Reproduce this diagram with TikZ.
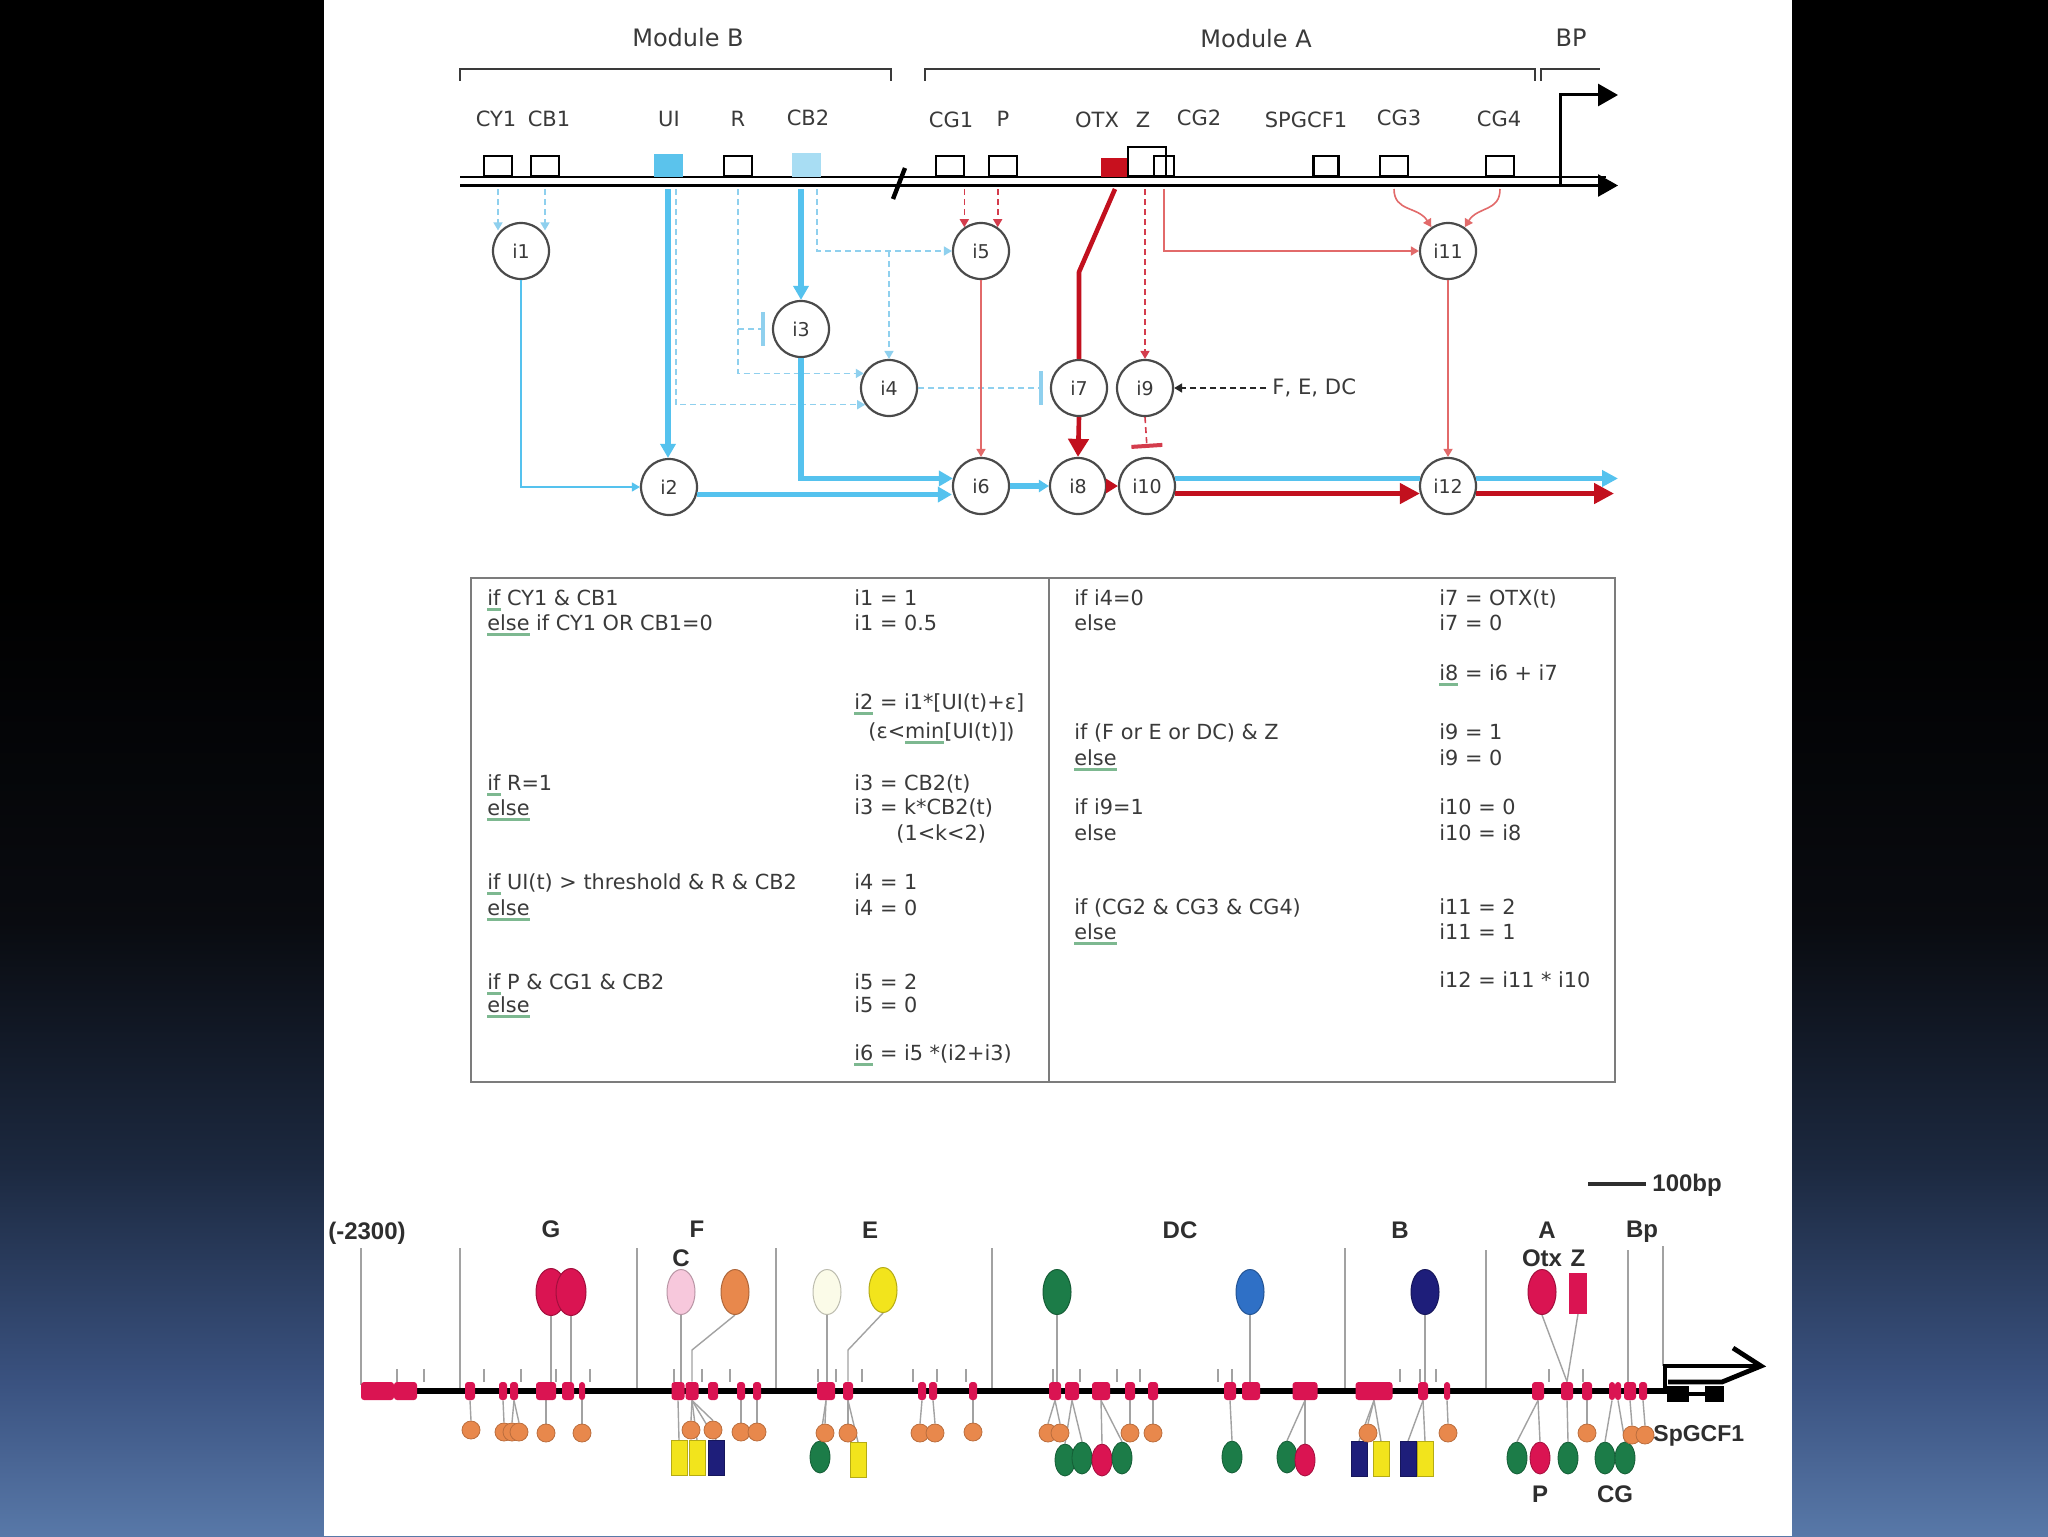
\documentclass[tikz,border=0pt]{standalone}
\usepackage{fontspec}
\usetikzlibrary{arrows.meta,shapes.geometric,calc}
\newfontfamily\dvfont{DejaVu Sans}
\newfontfamily\lsfont{Liberation Sans}
\definecolor{txtc}{HTML}{3A3A3A}
\definecolor{ndc}{HTML}{4A4A4A}
\definecolor{cyanT}{HTML}{55C2EE}
\definecolor{cyanD}{HTML}{8FD0EE}
\definecolor{uiblue}{HTML}{5BC3EC}
\definecolor{cbblue}{HTML}{A8DDF3}
\definecolor{redT}{HTML}{E26A6A}
\definecolor{redD}{HTML}{D43C4C}
\definecolor{redK}{HTML}{C2101E}
\definecolor{otxred}{HTML}{C8101E}
\definecolor{tabc}{HTML}{7C7C7C}
\definecolor{sqg}{HTML}{7DB890}
\definecolor{crim}{HTML}{DA1452}
\definecolor{orng}{HTML}{E8884C}
\definecolor{dgreen}{HTML}{1C7C48}
\definecolor{yel}{HTML}{F2E41C}
\definecolor{navy}{HTML}{1E1E7A}
\definecolor{mblue}{HTML}{2F70C6}
\definecolor{pinkc}{HTML}{F7C8DC}
\definecolor{ivory}{HTML}{FBFBE8}
\definecolor{gline}{HTML}{A2A2A2}
\definecolor{mapt}{HTML}{2E2E2E}
\definecolor{bgA}{HTML}{5878A8}
\definecolor{bgB}{HTML}{3A5280}
\definecolor{bgC}{HTML}{1C2940}
\definecolor{bgD}{HTML}{090B10}
\pgfdeclareverticalshading{slidebg}{100bp}{color(0bp)=(bgA); color(25bp)=(bgA); color(30bp)=(bgB); color(37bp)=(bgC); color(45bp)=(bgD); color(56bp)=(black); color(100bp)=(black)}
\pgfdeclarelayer{back}
\pgfsetlayers{back,main}
\newcommand\sqund[1]{\setbox0=\hbox{#1}\rlap{\textcolor{sqg}{\rule[-2.8pt]{\wd0}{1.2pt}}}#1}
\newcommand\dnasite[3]{\node[dsite, minimum width=#3pt] (#1) at (#2,1391) {};}
\tikzset{
  txt/.style={text=txtc, inner sep=0pt},
  toplab/.style={txt, font=\dvfont\fontsize{10.5}{12}\selectfont},
  modlab/.style={txt, font=\dvfont\fontsize{12}{14}\selectfont},
  obox/.style={draw=black, line width=1.2pt, inner sep=0pt, anchor=south, minimum width=14pt, minimum height=10pt},
  fbox/.style={fill=#1, draw=none, inner sep=0pt, anchor=south, minimum width=14.5pt, minimum height=11.5pt},
  inode/.style={circle, draw=ndc, fill=white, line width=1.1pt, minimum size=28pt, inner sep=0pt, font=\dvfont\fontsize{9.5}{11}\selectfont, text=txtc},
  bthick/.style={draw=cyanT, line width=2.6pt},
  bthin/.style={draw=cyanT, line width=0.7pt},
  bdash/.style={draw=cyanD, line width=0.8pt, dash pattern=on 3pt off 2pt},
  rthin/.style={draw=redT, line width=0.8pt},
  rdash/.style={draw=redD, line width=0.8pt, dash pattern=on 3pt off 2pt},
  rthick/.style={draw=redK, line width=2.3pt},
  atip/.style={-{Triangle[length=4pt,width=4.5pt]}},
  bigtip/.style={-{Triangle[length=7pt,width=7.5pt]}},
  inh/.style={-{Bar[width=17pt,line width=2pt]}},
  tabtxt/.style={txt, anchor=base west, font=\dvfont\fontsize{10.4}{12}\selectfont},
  maplab/.style={text=mapt, inner sep=0pt, font=\lsfont\bfseries\fontsize{12}{14}\selectfont},
  dsite/.style={fill=crim, draw=none, rounded corners=1.5pt, minimum height=9pt, inner sep=0pt},
  bigf/.style={ellipse, fill=#1, draw=#1!75!black, line width=0.5pt, minimum width=14pt, minimum height=22.5pt, inner sep=0pt},
  smf/.style={ellipse, fill=#1, draw=#1!75!black, line width=0.4pt, minimum width=10pt, minimum height=16pt, inner sep=0pt},
  smr/.style={rectangle, fill=#1, draw=#1!75!black, line width=0.4pt, minimum width=8pt, minimum height=17.5pt, inner sep=0pt},
  orc/.style={circle, fill=orng, draw=orng!80!black, line width=0.4pt, minimum size=9pt, inner sep=0pt},
  conn/.style={draw=gline, line width=0.7pt},
  sepl/.style={draw=gline, line width=0.8pt}
}
\begin{document}
\begin{tikzpicture}[x=0.5pt,y=-0.5pt]
\begin{pgfonlayer}{back}
\shade[shading=slidebg] (0,0) rectangle (2048,1536);
\fill[white] (324,0) rectangle (1792,1536);
\end{pgfonlayer}
\useasboundingbox (0,0) rectangle (2048,1536);

% ---------------- top: modules ----------------
\node[modlab] (modB) at (688,38) {Module B};
\node[modlab] (modA) at (1256,39) {Module A};
\node[modlab] (modBP) at (1571,38) {BP};
\draw[txtc, line width=1pt] (460,81) -- (460,69) -- (891,69) -- (891,81);
\draw[txtc, line width=1pt] (925,81) -- (925,69) -- (1535,69) -- (1535,81);
\draw[txtc, line width=1pt] (1541,81) -- (1541,69) -- (1600,69);

% DNA
\draw[line width=1.4pt] (460,177) -- (1606,177);
\draw[line width=1.4pt, -{Triangle[length=10pt,width=11pt]}] (460,185.5) -- (1618,185.5);
\draw[line width=2.2pt] (893,199) -- (905,168);
\draw[line width=1.5pt, -{Triangle[length=10pt,width=11pt]}] (1560,185) -- (1560,95) -- (1618,95);

% binding boxes
\node[obox] (bCY1) at (498,177) {};
\node[obox] (bCB1) at (545,177) {};
\node[fbox=uiblue] (bUI) at (668,177) {};
\node[obox] (bR) at (738,177) {};
\node[fbox=cbblue, minimum height=12pt] (bCB2) at (806,177) {};
\node[obox] (bCG1) at (950,177) {};
\node[obox] (bP) at (1003,177) {};
\node[fbox=otxred, minimum width=14pt, minimum height=9.5pt] (bOTX) at (1115,177) {};
\node[obox, minimum width=19pt, minimum height=14.5pt] (bZ) at (1147,177) {};
\node[obox, minimum width=10pt, minimum height=10pt] (bCG2) at (1164,177) {};
\node[obox, minimum width=12.5pt] (bSP) at (1326,177) {};
\node[obox] (bCG3) at (1394,177) {};
\node[obox] (bCG4) at (1500,177) {};

% labels
\node[toplab] (lCY1) at (496,119) {CY1};
\node[toplab] (lCB1) at (549,119) {CB1};
\node[toplab] (lUI) at (669,119) {UI};
\node[toplab] (lR) at (738,119) {R};
\node[toplab] (lCB2) at (808,118) {CB2};
\node[toplab] (lCG1) at (951,120) {CG1};
\node[toplab] (lP) at (1003,119) {P};
\node[toplab] (lOTX) at (1097,120) {OTX};
\node[toplab] (lZ) at (1143,120) {Z};
\node[toplab] (lCG2) at (1199,118) {CG2};
\node[toplab] (lSP) at (1306,120) {SPGCF1};
\node[toplab] (lCG3) at (1399,118) {CG3};
\node[toplab] (lCG4) at (1499,119) {CG4};

% intermediate nodes
\node[inode] (i1) at (521,251) {i1};
\node[inode] (i2) at (669,487) {i2};
\node[inode] (i3) at (801,329) {i3};
\node[inode] (i4) at (889,388) {i4};
\node[inode] (i5) at (981,251) {i5};
\node[inode] (i6) at (981,486) {i6};
\node[inode] (i7) at (1079,388) {i7};
\node[inode] (i8) at (1078,486) {i8};
\node[inode] (i9) at (1145,388) {i9};
\node[inode] (i10) at (1147,486) {i10};
\node[inode] (i11) at (1448,251) {i11};
\node[inode] (i12) at (1448,486) {i12};

\coordinate (dnaLow) at (0,189);
\coordinate (uiD) at (676,189);
\coordinate (cbD) at (817,189);
\coordinate (otxK) at (1079,272);
\coordinate (outB) at (1618,479);
\coordinate (outR) at (1614,493);

% blue connectors
\draw[bdash, atip] (bCY1 |- dnaLow) -- (bCY1 |- i1.135);
\draw[bdash, atip] (bCB1 |- dnaLow) -- (bCB1 |- i1.45);
\draw[bthin, atip] (i1.south) |- (i2.west);
\draw[bdash, atip] (uiD) |- (i4.215);
\draw[bthick, bigtip] (bUI |- dnaLow) -- (bUI |- i2.north);
\draw[bdash, atip] (bR |- dnaLow) |- (i4.150);
\draw[bdash, inh] (bR |- i3.west) -- ([xshift=-3.5pt]i3.west);
\draw[bdash, atip] (cbD) |- (i5.west);
\draw[bdash, atip] (i4.north |- i5.west) -- (i4.north);
\draw[bthick, bigtip] (i3.north |- dnaLow) -- (i3.north);
\draw[bthick, bigtip] (i3.south) |- (i6.165);
\draw[bthick, bigtip] (i2.-15) -- (i2.-15 -| i6.west);
\draw[bdash, inh] (i4.east) -- ([xshift=-3.5pt]i7.west);
\draw[bthick, -{Triangle[length=5pt,width=6pt]}] (i6.east) -- (i8.west);

% red connectors
\draw[rdash, atip] (i5.125 |- dnaLow) -- (i5.125);
\draw[rdash, atip] (i5.55 |- dnaLow) -- (i5.55);
\draw[rthin, atip] (i5.south) -- (i6.north);
\draw[rthick, line join=round] (bOTX |- dnaLow) -- (otxK) -- (i7.north);
\draw[rthick, -{Triangle[length=9pt,width=10pt]}] (i7.south) -- (i8.north);
\draw[rdash, atip] (i9.north |- dnaLow) -- (i9.north);
\draw[rthin, atip] (bCG2 |- dnaLow) |- (i11.west);
\draw[rthin, atip] (bCG3 |- dnaLow) .. controls (1394,212) and (1418,206) .. (i11.125);
\draw[rthin, atip] (bCG4 |- dnaLow) .. controls (1500,212) and (1478,206) .. (i11.55);
\draw[rthin, atip] (i11.south) -- (i12.north);
\node[txt, anchor=west, font=\dvfont\fontsize{10.6}{12}\selectfont] (fed) at (1272,388) {F, E, DC};
\draw[black!85, line width=0.8pt, dash pattern=on 3pt off 2pt, atip] ([xshift=-3pt]fed.west) -- (i9.east);
\draw[rdash, -{Bar[width=15.5pt,line width=2pt]}] (i9.south) -- ([yshift=4.5pt]i10.north);
\draw[rthick, -{Triangle[length=6pt,width=7pt]}] (i8.east) -- (i10.west);
\draw[bthick] (i10.15) -- (i12.165);
\draw[rthick, -{Triangle[length=10pt,width=10pt]}] (i10.-15) -- (i12.195);
\draw[bthick, -{Triangle[length=8pt,width=8pt]}] (i12.15) -- (i12.15 -| outB);
\draw[rthick, -{Triangle[length=10pt,width=10pt]}] (i12.-15) -- (i12.-15 -| outR);

% ---------------- table ----------------
\draw[tabc, line width=1.4pt] (471,578) rectangle (1615,1082);
\draw[tabc, line width=1.4pt] (1049,578) -- (1049,1082);
\node[tabtxt] (tl1) at (487,605) {\sqund{if} CY1 \& CB1};
\node[tabtxt] (tl2) at (487,630) {\sqund{else} if CY1 OR CB1=0};
\node[tabtxt] (tl3) at (487,790) {\sqund{if} R=1};
\node[tabtxt] (tl4) at (487,815) {\sqund{else}};
\node[tabtxt] (tl5) at (487,889) {\sqund{if} UI(t) > threshold \& R \& CB2};
\node[tabtxt] (tl6) at (487,915) {\sqund{else}};
\node[tabtxt] (tl7) at (487,989) {\sqund{if} P \& CG1 \& CB2};
\node[tabtxt] (tl8) at (487,1012) {\sqund{else}};
\node[tabtxt] (tv1) at (854,605) {i1 = 1};
\node[tabtxt] (tv2) at (854,630) {i1 = 0.5};
\node[tabtxt] (tv3) at (854,709) {\sqund{i2} = i1*[UI(t)+ε]};
\node[tabtxt] (tv4) at (868,738) {(ε<\sqund{min}[UI(t)])};
\node[tabtxt] (tv5) at (854,790) {i3 = CB2(t)};
\node[tabtxt] (tv6) at (854,814) {i3 = k*CB2(t)};
\node[tabtxt] (tv7) at (896,840) {(1<k<2)};
\node[tabtxt] (tv8) at (854,889) {i4 = 1};
\node[tabtxt] (tv9) at (854,915) {i4 = 0};
\node[tabtxt] (tv10) at (854,989) {i5 = 2};
\node[tabtxt] (tv11) at (854,1012) {i5 = 0};
\node[tabtxt] (tv12) at (854,1060) {\sqund{i6} = i5 *(i2+i3)};
\node[tabtxt] (tr1) at (1074,605) {if i4=0};
\node[tabtxt] (tr2) at (1074,630) {else};
\node[tabtxt] (tr3) at (1074,739) {if (F or E or DC) \& Z};
\node[tabtxt] (tr4) at (1074,765) {\sqund{else}};
\node[tabtxt] (tr5) at (1074,814) {if i9=1};
\node[tabtxt] (tr6) at (1074,840) {else};
\node[tabtxt] (tr7) at (1074,914) {if (CG2 \& CG3 \& CG4)};
\node[tabtxt] (tr8) at (1074,939) {\sqund{else}};
\node[tabtxt] (tw1) at (1439,605) {i7 = OTX(t)};
\node[tabtxt] (tw2) at (1439,630) {i7 = 0};
\node[tabtxt] (tw3) at (1439,680) {\sqund{i8} = i6 + i7};
\node[tabtxt] (tw4) at (1439,739) {i9 = 1};
\node[tabtxt] (tw5) at (1439,765) {i9 = 0};
\node[tabtxt] (tw6) at (1439,814) {i10 = 0};
\node[tabtxt] (tw7) at (1439,840) {i10 = i8};
\node[tabtxt] (tw8) at (1439,914) {i11 = 2};
\node[tabtxt] (tw9) at (1439,939) {i11 = 1};
\node[tabtxt] (tw10) at (1439,987) {i12 = i11 * i10};

% ---------------- bottom map ----------------
\draw[line width=2pt, mapt] (1588,1184) -- (1646,1184);
\node[maplab, anchor=west] (sbar) at (1652,1185) {100bp};
\node[maplab] (l2300) at (367,1233) {(-2300)};
\node[maplab] (lG) at (551,1229) {G};
\node[maplab] (lF) at (697,1229) {F};
\node[maplab] (lE) at (870,1230) {E};
\node[maplab] (lDC) at (1180,1230) {DC};
\node[maplab] (lB) at (1400,1230) {B};
\node[maplab] (lA) at (1547,1230) {A};
\node[maplab] (lBp) at (1642,1232) {Bp};
\node[maplab] (lC) at (681,1258) {C};
\node[maplab] (lOtx) at (1542,1258) {Otx};
\node[maplab] (lZm) at (1578,1258) {Z};
\node[maplab] (lPm) at (1540,1494) {P};
\node[maplab] (lCG) at (1615,1494) {CG};
\node[maplab, anchor=west, font=\lsfont\bfseries\fontsize{11.5}{13}\selectfont] (lSp) at (1653,1436) {SpGCF1};

\begin{pgfonlayer}{back}
\foreach \sx/\st/\sb in {361/1248/1385, 460/1248/1391, 637/1248/1391, 776/1248/1391, 992/1248/1391, 1345/1248/1391, 1486/1250/1391, 1628/1250/1391, 1663/1246/1366}
  \draw[sepl] (\sx,\st) -- (\sx,\sb);
\foreach \tx in {397,424,484,521,556,590,674,702,730,818,836,862,913,937,966,1053,1080,1117,1140,1218,1232,1400,1420,1436,1549,1583}
  \draw[draw=gline, line width=0.6pt] (\tx,1369) -- (\tx,1382);
\end{pgfonlayer}

\draw[line width=3.4pt] (361,1391) -- (1665,1391);
% promoter
\draw[line width=2.4pt, line join=miter] (1665,1394) -- (1665,1366) -- (1760,1366);
\draw[line width=2.4pt, line join=miter] (1733,1348) -- (1761,1366) -- (1722,1382) -- (1668,1382);
\fill (1667,1386) rectangle (1689,1402);
\fill (1705,1386) rectangle (1724,1402);
\draw[line width=2pt] (1689,1394) -- (1705,1394);

% sites
\dnasite{sa}{377.5}{16.5}
\dnasite{sb}{405.5}{11.5}
\dnasite{g1}{470}{5}
\dnasite{g2}{503}{4}
\dnasite{g3}{514}{4}
\dnasite{g4}{546}{10}
\dnasite{g5}{568}{6}
\dnasite{g6}{582}{3}
\dnasite{f1}{678}{6.5}
\dnasite{f2}{692}{6.5}
\dnasite{f3}{713}{5}
\dnasite{f4}{741}{4}
\dnasite{f5}{757}{4}
\dnasite{e1}{826}{9}
\dnasite{e2}{848}{5}
\dnasite{e3}{922}{4}
\dnasite{e4}{933}{4}
\dnasite{e5}{973}{4}
\dnasite{d1}{1055}{6}
\dnasite{d2}{1072}{7}
\dnasite{d3}{1101}{9}
\dnasite{d4}{1130}{5}
\dnasite{d5}{1153}{5}
\dnasite{d6}{1230}{6}
\dnasite{d7}{1251}{9}
\dnasite{d8}{1305}{12.5}
\dnasite{b1}{1374}{18.5}
\dnasite{b2}{1423}{5}
\dnasite{b3}{1447}{3}
\dnasite{a1}{1538}{6}
\dnasite{a2}{1567}{6}
\dnasite{a3}{1587}{5}
\dnasite{a4}{1612}{3}
\dnasite{a5}{1618}{3}
\dnasite{a6}{1630}{6}
\dnasite{a7}{1643}{4}

% upper factors
\node[bigf=crim, minimum width=15pt, minimum height=23.5pt] (fG1) at (551,1292) {};
\node[bigf=crim, minimum width=15pt, minimum height=23.5pt] (fG2) at (571,1292) {};
\node[bigf=pinkc] (fC) at (681,1292) {};
\node[bigf=orng] (fF) at (735,1292) {};
\node[bigf=ivory] (fE1) at (827,1292) {};
\node[bigf=yel] (fE2) at (883,1290) {};
\node[bigf=dgreen] (fDC1) at (1057,1292) {};
\node[bigf=mblue] (fDC2) at (1250,1292) {};
\node[bigf=navy] (fB) at (1425,1292) {};
\node[bigf=crim] (fOtx) at (1542,1292) {};
\node[rectangle, fill=crim, minimum width=9pt, minimum height=20.5pt, inner sep=0pt] (fZ) at (1578,1293) {};

% lower factors: rectangles
\node[smr=yel] (yF1) at (679,1458) {};
\node[smr=yel] (yF2) at (697,1458) {};
\node[smr=navy] (nF) at (716,1458) {};
\node[smr=yel] (yE) at (858,1460) {};
\node[smr=navy] (nB1) at (1359,1459) {};
\node[smr=yel] (yB1) at (1381,1459) {};
\node[smr=navy] (nB2) at (1408,1459) {};
\node[smr=yel] (yB2) at (1425,1459) {};
% lower factors: ellipses
\node[smf=dgreen] (gE) at (820,1457) {};
\node[smf=dgreen] (gD1) at (1065,1460) {};
\node[smf=dgreen] (gD2) at (1082,1458) {};
\node[smf=crim] (cD) at (1102,1460) {};
\node[smf=dgreen] (gD3) at (1122,1458) {};
\node[smf=dgreen] (gD4) at (1232,1457) {};
\node[smf=dgreen] (gD5) at (1287,1457) {};
\node[smf=crim] (cD2) at (1305,1460) {};
\node[smf=dgreen] (gA1) at (1517,1458) {};
\node[smf=crim] (cA) at (1540,1458) {};
\node[smf=dgreen] (gA2) at (1568,1458) {};
\node[smf=dgreen] (gA3) at (1605,1458) {};
\node[smf=dgreen] (gA4) at (1625,1458) {};
% lower factors: orange
\foreach \on/\ox/\oy in {oG1/471/1430, oG2/504/1432, oG3/512/1432, oG4/519/1432, oG5/546/1433, oG6/582/1433, oF1/691/1430, oF2/713/1430, oF3/741/1432, oF4/757/1432, oE1/825/1433, oE2/848/1433, oE3/920/1433, oE4/935/1433, oE5/973/1432, oD1/1048/1433, oD2/1060/1433, oD3/1130/1433, oD4/1153/1433, oB1/1368/1433, oB2/1448/1433, oA1/1587/1433, oA2/1632/1435, oA3/1645/1435}
  \node[orc] (\on) at (\ox,\oy) {};

\coordinate (kF) at (692,1350);
\coordinate (kE) at (848,1350);
\begin{pgfonlayer}{back}
\draw[conn] (fG1.south) -- (fG1.south |- g4.north);
\draw[conn] (fG2.south) -- (fG2.south |- g5.north);
\draw[conn] (fC.south) -- (fC.south |- f1.north);
\draw[conn] (fF.south) -- (kF) -- (f2.north);
\draw[conn] (fE1.south) -- (fE1.south |- e1.north);
\draw[conn] (fE2.south) -- (kE) -- (e2.north);
\draw[conn] (fDC1.south) -- (fDC1.south |- d1.north);
\draw[conn] (fDC2.south) -- (fDC2.south |- d7.north);
\draw[conn] (fB.south) -- (fB.south |- b2.north);
\draw[conn] (fOtx.south) -- (a2.north);
\draw[conn] (fZ.south) -- (a2.north);
\foreach \s/\f in {g1/oG1, g2/oG2, g3/oG3, g3/oG4, g4/oG5, g6/oG6, f1/yF1, f2/oF1, f2/yF2, f2/oF2, f2/nF, f4/oF3, f5/oF4, e1/oE1, e1/gE, e2/oE2, e2/yE, e3/oE3, e4/oE4, e5/oE5, d1/oD1, d1/oD2, d2/gD1, d2/gD2, d3/cD, d3/gD3, d4/oD3, d5/oD4, d6/gD4, d8/gD5, d8/cD2, b1/nB1, b1/oB1, b1/yB1, b2/nB2, b2/yB2, b3/oB2, a1/gA1, a1/cA, a2/gA2, a3/oA1, a4/gA3, a5/gA4, a6/oA2, a7/oA3}
  \draw[conn] (\s.south) -- (\f.north);
\end{pgfonlayer}
\end{tikzpicture}
\end{document}
